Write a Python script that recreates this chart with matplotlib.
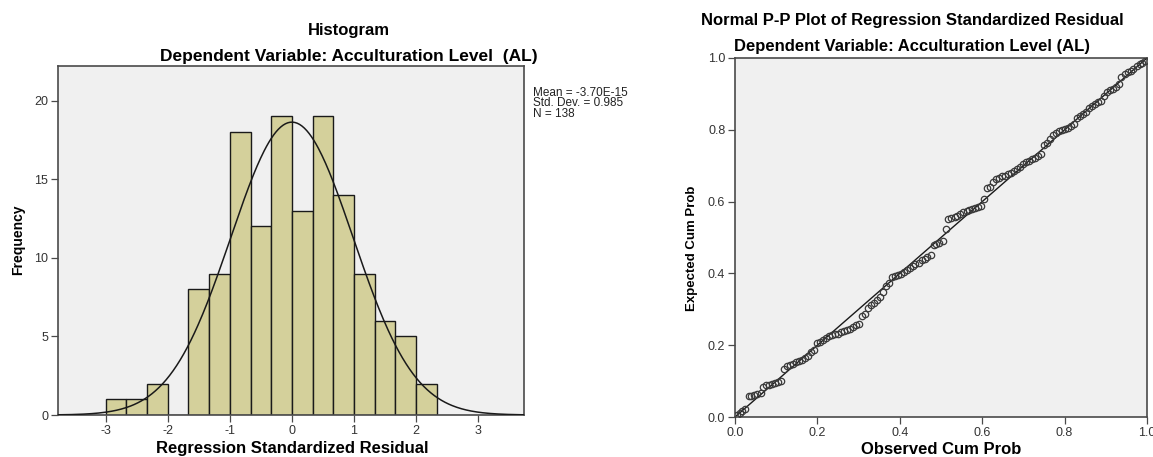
import numpy as np
import matplotlib
matplotlib.use("Agg")
import matplotlib.pyplot as plt

plt.rcParams['font.family'] = ['Liberation Sans', 'DejaVu Sans']
plt.rcParams['axes.unicode_minus'] = False

# histogram of regression standardized residuals
bin_edges = [-3.0, -2.667, -2.333, -2.0, -1.667, -1.333, -1.0, -0.667, -0.333,
             0.0, 0.333, 0.667, 1.0, 1.333, 1.667, 2.0, 2.333]
counts = [1, 1, 2, 0, 8, 9, 18, 12, 19, 13, 19, 14, 9, 6, 5, 2]
resid_mean = -3.70e-15
resid_sd = 0.985
n_obs = 138

# normal P-P plot
observed_cum = [
    0.004, 0.011, 0.018, 0.025, 0.033, 0.040, 0.047, 0.054, 0.062, 0.069,
    0.076, 0.083, 0.091, 0.098, 0.105, 0.112, 0.120, 0.127, 0.134, 0.141,
    0.149, 0.156, 0.163, 0.170, 0.178, 0.185, 0.192, 0.199, 0.207, 0.214,
    0.221, 0.228, 0.236, 0.243, 0.250, 0.257, 0.264, 0.272, 0.279, 0.286,
    0.293, 0.301, 0.308, 0.315, 0.322, 0.330, 0.337, 0.344, 0.351, 0.359,
    0.366, 0.373, 0.380, 0.388, 0.395, 0.402, 0.409, 0.417, 0.424, 0.431,
    0.438, 0.446, 0.453, 0.460, 0.467, 0.475, 0.482, 0.489, 0.496, 0.504,
    0.511, 0.518, 0.525, 0.533, 0.540, 0.547, 0.554, 0.562, 0.569, 0.576,
    0.583, 0.591, 0.598, 0.605, 0.612, 0.620, 0.627, 0.634, 0.641, 0.649,
    0.656, 0.663, 0.670, 0.678, 0.685, 0.692, 0.699, 0.707, 0.714, 0.721,
    0.728, 0.736, 0.743, 0.750, 0.757, 0.764, 0.772, 0.779, 0.786, 0.793,
    0.801, 0.808, 0.815, 0.822, 0.830, 0.837, 0.844, 0.851, 0.859, 0.866,
    0.873, 0.880, 0.888, 0.895, 0.902, 0.909, 0.917, 0.924, 0.931, 0.938,
    0.946, 0.953, 0.960, 0.967, 0.975, 0.982, 0.989, 0.996]
expected_cum = [
    0.005, 0.010, 0.018, 0.022,
    0.058, 0.058, 0.060, 0.064, 0.068,
    0.083, 0.088, 0.088, 0.092, 0.095, 0.098, 0.101,
    0.133, 0.141, 0.146, 0.149, 0.152, 0.156, 0.160, 0.164, 0.170, 0.180, 0.186,
    0.207, 0.210, 0.214, 0.220, 0.227, 0.229, 0.230, 0.232, 0.238, 0.240,
    0.242, 0.244, 0.250, 0.256, 0.258,
    0.280, 0.288, 0.305, 0.312, 0.318, 0.326, 0.334, 0.348, 0.365, 0.372,
    0.390, 0.393, 0.395, 0.397, 0.403, 0.410, 0.416, 0.420, 0.425, 0.430,
    0.436, 0.440, 0.446, 0.452, 0.478, 0.482, 0.486, 0.490, 0.524,
    0.552, 0.555, 0.557, 0.560, 0.566, 0.571, 0.575, 0.577, 0.579, 0.581,
    0.585, 0.588, 0.607,
    0.637, 0.641, 0.655, 0.662, 0.667, 0.670, 0.672, 0.676, 0.680, 0.686,
    0.690, 0.697, 0.704, 0.710, 0.714, 0.718, 0.722, 0.727, 0.732,
    0.757, 0.762, 0.774, 0.785, 0.792, 0.797, 0.800, 0.803, 0.806, 0.810,
    0.815, 0.832, 0.838, 0.845, 0.850, 0.862, 0.867, 0.872, 0.877, 0.881,
    0.895, 0.906, 0.910, 0.914, 0.918, 0.927, 0.947, 0.955, 0.960, 0.965,
    0.970, 0.977, 0.983, 0.987, 0.993]
diagonal = [0.0, 1.0]

W, H = 1153, 457
fig = plt.figure(figsize=(W / 100, H / 100), dpi=100)
fig.patch.set_facecolor('white')

bg = '#f0f0f0'
spine_col = '#4a4a4a'
bar_col = '#d4d09b'


def px_axes(left, top, right, bottom):
    return fig.add_axes([left / W, 1 - bottom / H, (right - left) / W, (bottom - top) / H])


def px_text(x, y, s, **kw):
    kw.setdefault('ha', 'center')
    kw.setdefault('va', 'center')
    return fig.text(x / W, 1 - y / H, s, **kw)


def style(ax):
    ax.set_facecolor(bg)
    for s in ax.spines.values():
        s.set_color(spine_col)
        s.set_linewidth(1.2)
    ax.tick_params(direction='out', length=5, width=0.9, color=spine_col,
                   labelsize=9, labelcolor='#333333', pad=2)


# ---- histogram ----
ax1 = px_axes(58, 66, 524, 415)
style(ax1)
widths = np.diff(bin_edges)
ax1.bar(bin_edges[:-1], counts, width=widths, align='edge', color=bar_col,
        edgecolor='#1a1a1a', linewidth=1.0, zorder=2)
xs = np.linspace(-3.8, 3.8, 400)
bw = widths.mean()
curve = n_obs * bw * np.exp(-0.5 * ((xs - resid_mean) / resid_sd) ** 2) / (resid_sd * np.sqrt(2 * np.pi))
ax1.plot(xs, curve, color='#1a1a1a', linewidth=1.1, zorder=3)
ax1.set_xlim(-3.77, 3.74)
ax1.set_ylim(0, 22.2)
ax1.set_xticks([-3, -2, -1, 0, 1, 2, 3])
ax1.set_yticks([0, 5, 10, 15, 20])

px_text(292, 449, 'Regression Standardized Residual', fontsize=12, fontweight='bold')
px_text(18, 240, 'Frequency', rotation=90, fontsize=10, fontweight='bold')
px_text(349, 30, 'Histogram', fontsize=12, fontweight='bold')
px_text(349, 56, 'Dependent Variable: Acculturation Level  (AL)', fontsize=12.5, fontweight='bold')
px_text(533, 87, 'Mean = -3.70E-15\nStd. Dev. = 0.985\nN = 138',
        ha='left', va='top', fontsize=8.5, linespacing=0.82, color='#222222')

# ---- P-P plot ----
ax2 = px_axes(735, 58, 1147, 417)
style(ax2)
ax2.plot(diagonal, diagonal, color='#1a1a1a', linewidth=1.0, zorder=2)
ax2.plot(observed_cum, expected_cum, linestyle='none', marker='o', markersize=4.6,
         markerfacecolor='none', markeredgecolor='#3a3a3a', markeredgewidth=0.9, zorder=3)
ax2.set_xlim(0, 1)
ax2.set_ylim(0, 1)
ticks = [0.0, 0.2, 0.4, 0.6, 0.8, 1.0]
ax2.set_xticks(ticks)
ax2.set_yticks(ticks)
ax2.set_xticklabels(['%.1f' % t for t in ticks])
ax2.set_yticklabels(['%.1f' % t for t in ticks])

px_text(941, 449, 'Observed Cum Prob', fontsize=12, fontweight='bold')
px_text(692, 248, 'Expected Cum Prob', rotation=90, fontsize=9.5, fontweight='bold')
px_text(912, 20, 'Normal P-P Plot of Regression Standardized Residual', fontsize=12, fontweight='bold')
px_text(912, 47, 'Dependent Variable: Acculturation Level (AL)', fontsize=12, fontweight='bold')

fig.savefig('out.png', dpi=100, facecolor='white')
